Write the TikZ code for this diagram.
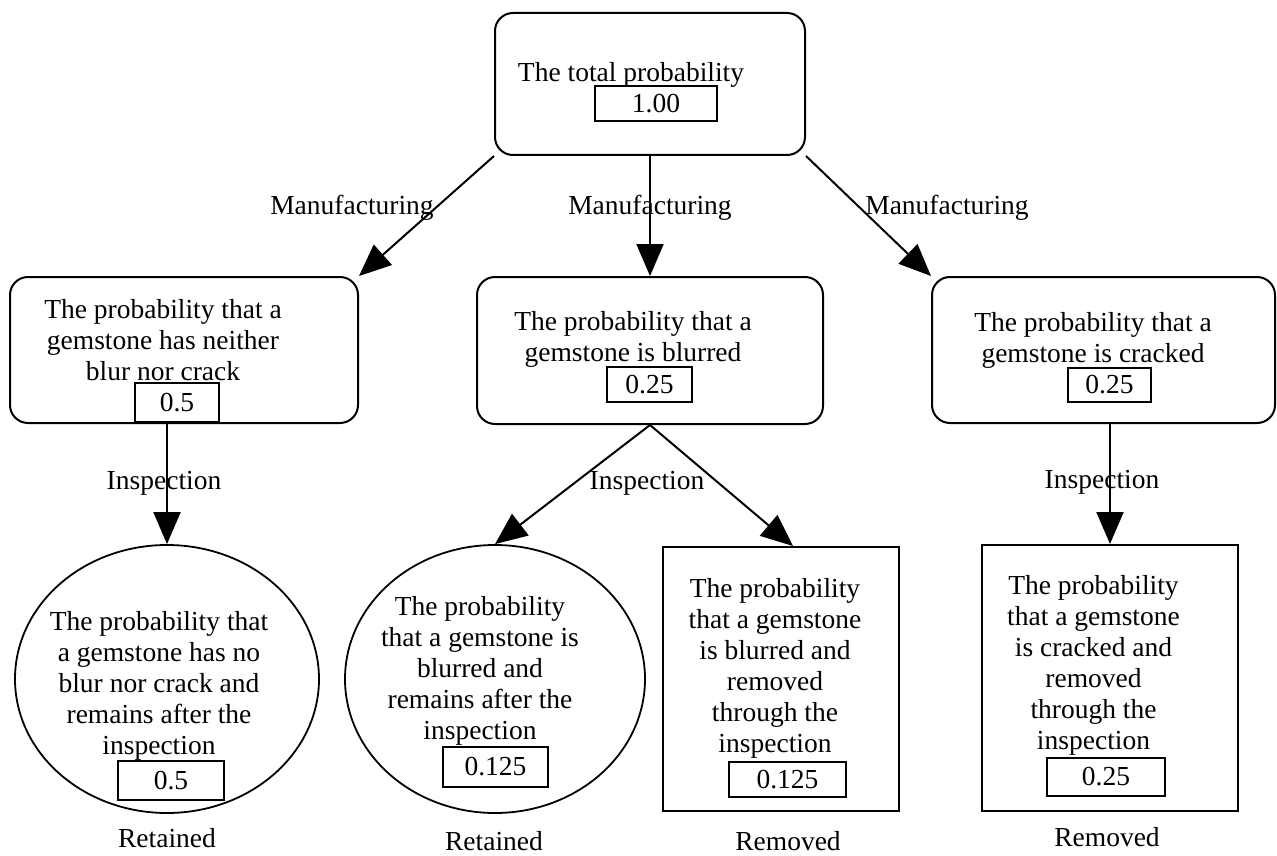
\documentclass[tikz,border=0pt]{standalone}
\usepackage{fontspec}
\setmainfont{Liberation Serif}
\usetikzlibrary{arrows.meta,shapes.geometric}
\begin{document}
\begin{tikzpicture}[x=1pt,y=-1pt,
  rbox/.style={draw, line width=2pt, rounded corners=18pt, inner sep=0pt},
  ebox/.style={draw, ellipse, line width=1.8pt, inner sep=0pt},
  sbox/.style={draw, rectangle, line width=2pt, inner sep=0pt},
  vbox/.style={draw, rectangle, line width=1.8pt, inner sep=0pt, fill=white, font=\fontsize{27.5}{31}\selectfont},
  txt/.style={align=center, inner sep=0pt, font=\fontsize{27.5}{31}\selectfont},
  lbl/.style={inner sep=0pt, font=\fontsize{27.5}{31}\selectfont},
  arr/.style={line width=2pt, -{Triangle[length=32pt,width=27pt]}},
]
\useasboundingbox (0,0) rectangle (1277,856);

% shapes
\node[rbox, minimum width=310pt, minimum height=142pt] (top) at (650,84) {};
\node[rbox, minimum width=348pt, minimum height=146pt] (left) at (184,350) {};
\node[rbox, minimum width=346pt, minimum height=147pt] (mid) at (650,350.5) {};
\node[rbox, minimum width=343pt, minimum height=146pt] (right) at (1103.5,350) {};
\node[ebox, minimum width=304pt, minimum height=268pt] (e1) at (167,679) {};
\node[ebox, minimum width=300pt, minimum height=268pt] (e2) at (495,679) {};
\node[sbox, minimum width=236pt, minimum height=264pt] (r1) at (781,679) {};
\node[sbox, minimum width=256pt, minimum height=266pt] (r2) at (1110,678) {};

% texts
\node[txt] (ttop) at (631,75) {The total probability};
\node[vbox, minimum width=122pt, minimum height=35pt] (vtop) at (656,103.5) {1.00};

\node[txt] (tleft) at (163,340) {The probability that a\\gemstone has neither\\blur nor crack};
\node[vbox, minimum width=84pt, minimum height=39pt] (vleft) at (177,402.5) {0.5};

\node[txt] (tmid) at (633,339) {The probability that a\\gemstone is blurred};
\node[vbox, minimum width=85pt, minimum height=35pt] (vmid) at (649.5,384.5) {0.25};

\node[txt] (tright) at (1093,340) {The probability that a\\gemstone is cracked};
\node[vbox, minimum width=83pt, minimum height=34pt] (vright) at (1109.5,385) {0.25};

\node[txt] (te1) at (159,686) {The probability that\\a gemstone has no\\blur nor crack and\\remains after the\\inspection};
\node[vbox, minimum width=106pt, minimum height=39pt] (ve1) at (171,780.5) {0.5};

\node[txt] (te2) at (480,671) {The probability\\that a gemstone is\\blurred and\\remains after the\\inspection};
\node[vbox, minimum width=105pt, minimum height=40pt] (ve2) at (495.5,767) {0.125};

\node[txt] (tr1) at (775,668) {The probability\\that a gemstone\\is blurred and\\removed\\through the\\inspection};
\node[vbox, minimum width=117pt, minimum height=35pt] (vr1) at (787.5,779.5) {0.125};

\node[txt] (tr2) at (1093.5,665) {The probability\\that a gemstone\\is cracked and\\removed\\through the\\inspection};
\node[vbox, minimum width=118pt, minimum height=38pt] (vr2) at (1106,777) {0.25};

% bottom labels
\node[lbl] (lb1) at (167,838) {Retained};
\node[lbl] (lb2) at (494,841) {Retained};
\node[lbl] (lb3) at (788,841) {Removed};
\node[lbl] (lb4) at (1107,837) {Removed};

% connectors
\draw[arr] (top.south west) -- (left.north east);
\draw[arr] (top.south) -- (mid.north);
\draw[arr] (top.south east) -- (right.north west);
\draw[arr] (e1.north |- left.south) -- (e1.north);
\draw[arr] (mid.south) -- (e2.north);
\coordinate (r1in) at ([xshift=12pt]r1.north);
\draw[arr] (mid.south) -- (r1in);
\draw[arr] (r2.north |- right.south) -- (r2.north);

% connector labels
\node[lbl] (m1) at (352,208) {Manufacturing};
\node[lbl] (m2) at (650,208) {Manufacturing};
\node[lbl] (m3) at (947,208) {Manufacturing};
\node[lbl] (i1) at (164,483) {Inspection};
\node[lbl] (i2) at (647,483) {Inspection};
\node[lbl] (i3) at (1102,482) {Inspection};
\end{tikzpicture}
\end{document}
